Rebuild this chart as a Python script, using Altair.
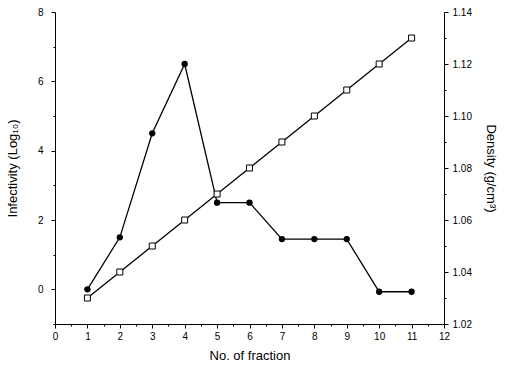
import altair as alt
import pandas as pd

fraction = [1, 2, 3, 4, 5, 6, 7, 8, 9, 10, 11]
infectivity = [0.0, 1.5, 4.5, 6.5, 2.5, 2.5, 1.45, 1.45, 1.45, -0.07, -0.07]
density = [1.030, 1.040, 1.050, 1.060, 1.070, 1.080, 1.090, 1.100, 1.110, 1.120, 1.130]

df = pd.DataFrame({"fraction": fraction, "infectivity": infectivity, "density": density})

FONT = "Liberation Sans"

x_enc = alt.X(
    "fraction:Q",
    scale=alt.Scale(domain=[0, 12], nice=False, zero=False),
    axis=alt.Axis(
        title="No. of fraction",
        values=[i / 2 for i in range(0, 25)],
        tickCount=100,
        labelExpr="datum.value % 1 === 0 ? format(datum.value, 'd') : ''",
        tickSize={"expr": "datum.value % 1 === 0 ? 4 : 2"},
        labelOverlap=False, labelFlush=False,
        grid=False,
        domainColor="black", tickColor="black",
        labelFontSize=10, titleFontSize=13, labelColor="black", titleColor="black",
        labelFont=FONT, titleFont=FONT, titleFontWeight="normal",
        labelPadding=3, titlePadding=8,
    ),
)

left_axis = alt.Axis(
    title="Infectivity (Log₁₀)",
    values=list(range(-1, 9)),
    tickCount=100,
    labelExpr="datum.value % 2 === 0 ? format(datum.value, 'd') : ''",
    tickSize={"expr": "datum.value % 2 === 0 ? 4 : 2"},
    labelOverlap=False, labelFlush=False,
    grid=False, domainColor="black", tickColor="black",
    labelFontSize=10, titleFontSize=13, labelColor="black", titleColor="black",
    labelFont=FONT, titleFont=FONT, titleFontWeight="normal",
    labelPadding=8, titlePadding=18,
)

right_axis = alt.Axis(
    title="Density (g/cm³)",
    orient="right",
    values=[round(1.02 + 0.01 * i, 2) for i in range(13)],
    tickCount=100,
    labelExpr="round(datum.value * 100) % 2 === 0 ? format(datum.value, '.2f') : ''",
    tickSize={"expr": "round(datum.value * 100) % 2 === 0 ? 4 : 2"},
    labelOverlap=False, labelFlush=False,
    grid=False, domainColor="black", tickColor="black",
    labelFontSize=10, titleFontSize=13, labelColor="black", titleColor="black",
    labelFont=FONT, titleFont=FONT, titleFontWeight="normal",
    labelPadding=4, titlePadding=12,
)

base = alt.Chart(df)

inf_line = base.mark_line(color="black", strokeWidth=1.3).encode(
    x=x_enc,
    y=alt.Y("infectivity:Q", scale=alt.Scale(domain=[-1, 8], nice=False, zero=False), axis=left_axis),
)
inf_pts = base.mark_point(filled=True, shape="circle", size=40, color="black", opacity=1).encode(
    x="fraction:Q", y="infectivity:Q"
)

den_line = base.mark_line(color="black", strokeWidth=1.3).encode(
    x="fraction:Q",
    y=alt.Y("density:Q", scale=alt.Scale(domain=[1.02, 1.14], nice=False, zero=False), axis=right_axis),
)
den_pts = base.mark_point(shape="square", size=36, fill="white", stroke="black", strokeWidth=1, filled=False, opacity=1).encode(
    x="fraction:Q", y="density:Q"
)

left = alt.layer(inf_line, inf_pts)
right = alt.layer(den_line, den_pts)

chart = alt.layer(left, right).resolve_scale(y="independent").properties(
    width=389, height=312,
    autosize=alt.AutoSizeParams(type="none"),
    padding={"left": 55, "top": 12, "right": 63, "bottom": 45},
    background="white",
).configure_view(stroke=None)

chart.save("out.html", embed_options={"renderer": "svg", "actions": False})
